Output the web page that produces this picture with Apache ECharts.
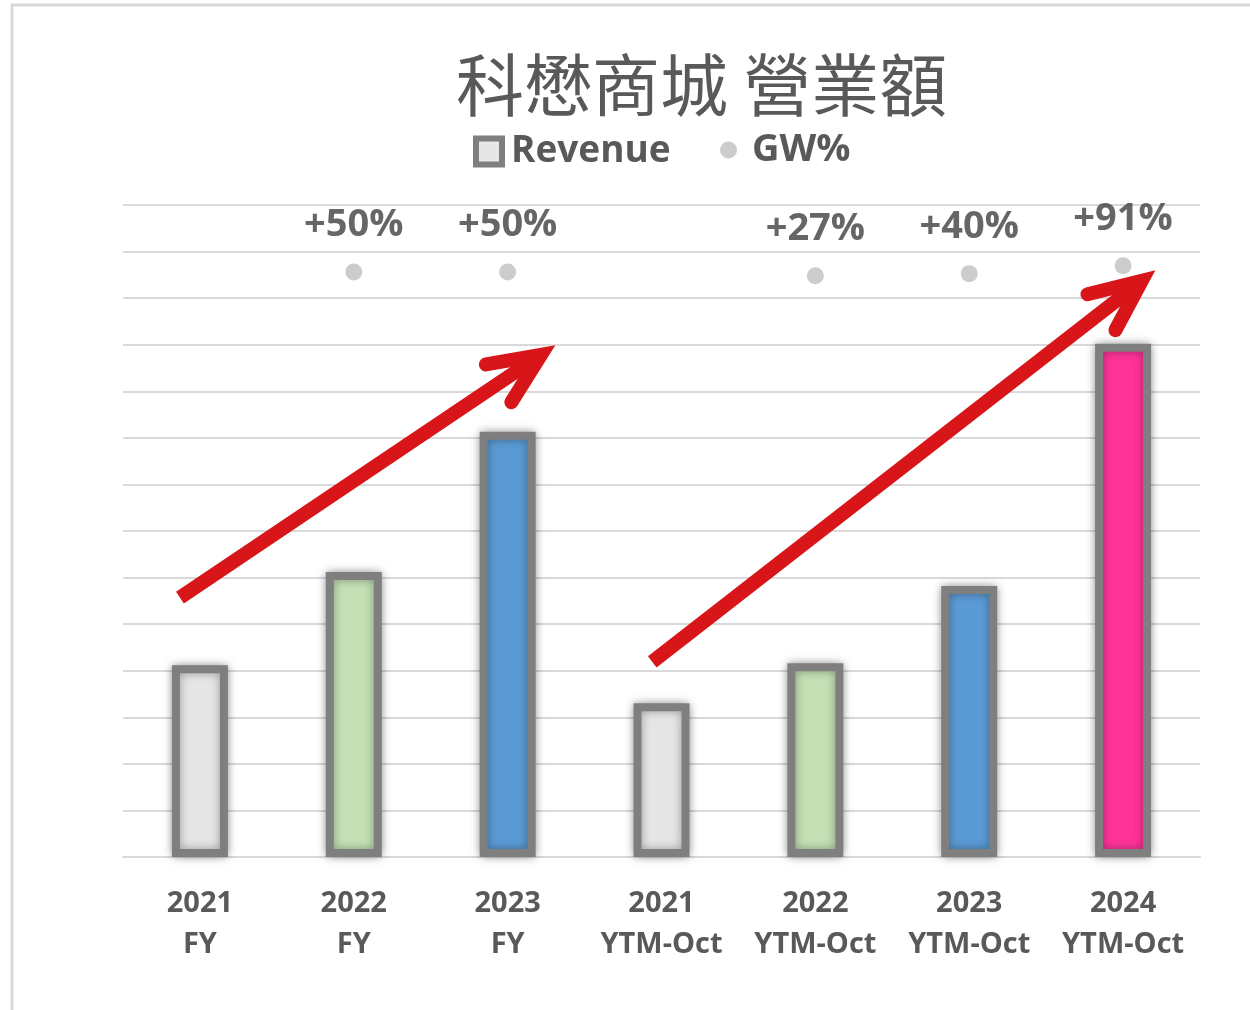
<!DOCTYPE html>
<html>
<head>
<meta charset="utf-8">
<script src="https://cdn.jsdelivr.net/npm/echarts@6/dist/echarts.min.js"></script>
</head>
<body style="margin: 0; background: #fff">
<div id="container" style="width: 1250px; height: 1010px;"></div>
<script>
var categories = ['2021\nFY', '2022\nFY', '2023\nFY', '2021\nYTM-Oct', '2022\nYTM-Oct', '2023\nYTM-Oct', '2024\nYTM-Oct'];
var revenue = [4.12, 6.12, 9.13, 3.30, 4.16, 5.82, 11.02];
var growth = [null, 50, 50, null, 27, 40, 91];   // GW%
var barColors = ['#e7e6e6', '#c5e0b4', '#5b9bd5', '#e7e6e6', '#c5e0b4', '#5b9bd5', '#ff3399'];

// red trend arrows, in data space: [category index, revenue value]
var arrows = [
    {from: [-0.13, 5.57], to: [2.31, 10.99]},
    {from: [2.94, 4.19], to: [6.21, 12.60]}
];

var chart = echarts.init(document.getElementById('container'));
var latin = '"Open Sans", "DejaVu Sans", sans-serif';

var option = {
    animation: false,
    title: {
        text: '科懋商城 營業額',
        left: 451,
        top: 46,
        textStyle: {
            fontFamily: '"Noto Sans CJK TC", sans-serif',
            fontSize: 68,
            fontWeight: 'normal',
            color: '#595959'
        }
    },
    legend: [
        {
            left: 468,
            top: 128,
            itemWidth: 26,
            itemHeight: 26,
            data: [{
                name: 'Revenue',
                icon: 'rect',
                itemStyle: {color: '#e7e6e6', borderColor: '#7f7f7f', borderWidth: 6}
            }],
            textStyle: {fontFamily: latin, fontSize: 37, fontWeight: 'bold', color: '#595959', padding: [0, 0, 0, 4]}
        },
        {
            left: 715,
            top: 126,
            itemWidth: 17,
            itemHeight: 17,
            data: [{name: 'GW%', icon: 'circle', itemStyle: {color: '#bfbfbf'}}],
            textStyle: {fontFamily: latin, fontSize: 38, fontWeight: 'bold', color: '#595959', padding: [0, 0, 0, 10]}
        }
    ],
    grid: {left: 123, right: 50, top: 205, bottom: 153},
    xAxis: {
        type: 'category',
        data: categories,
        axisLine: {lineStyle: {color: '#d9d9d9', width: 2}},
        axisTick: {show: false},
        axisLabel: {
            interval: 0,
            hideOverlap: false,
            margin: 26,
            lineHeight: 41,
            fontFamily: latin,
            fontSize: 29,
            fontWeight: 'bold',
            color: '#595959'
        }
    },
    yAxis: [
        {
            type: 'value',
            min: 0,
            max: 14,
            interval: 1,
            axisLabel: {show: false},
            axisLine: {show: false},
            axisTick: {show: false},
            splitLine: {lineStyle: {color: '#d9d9d9', width: 2}}
        },
        {
            // hidden scale for GW% dots, they sit almost flat near the top
            type: 'value',
            min: -3700,
            max: 480,
            show: false,
            splitLine: {show: false}
        }
    ],
    series: [
        {
            name: 'Revenue',
            type: 'bar',
            barWidth: 56,
            data: revenue.map(function (v, i) {
                return {value: v, itemStyle: {color: barColors[i]}};
            }),
            itemStyle: {
                borderColor: '#7f7f7f',
                borderWidth: 8,
                shadowBlur: 10,
                shadowColor: 'rgba(0,0,0,0.35)'
            }
        },
        {
            name: 'GW%',
            type: 'scatter',
            yAxisIndex: 1,
            symbolSize: 17,
            data: growth,
            itemStyle: {color: '#bfbfbf'},
            label: {
                show: true,
                position: 'top',
                distance: 19,
                formatter: function (p) { return '+' + p.value + '%'; },
                fontFamily: latin,
                fontSize: 38,
                fontWeight: 'bold',
                color: '#404040'
            }
        }
    ]
};
chart.setOption(option);

// build arrows from data coords
var p0 = chart.convertToPixel({xAxisIndex: 0}, 0);
var p1 = chart.convertToPixel({xAxisIndex: 0}, 1);
function toPx(pt) {
    return [p0 + pt[0] * (p1 - p0), chart.convertToPixel({yAxisIndex: 0}, pt[1])];
}

var graphics = [{
    type: 'rect',
    shape: {x: 12, y: 5, width: 1400, height: 1200},
    style: {fill: null, stroke: '#d9d9d9', lineWidth: 3},
    silent: true,
    z: 0
}];

var red = '#d81518';
var lw = 14;
arrows.forEach(function (a) {
    var s = toPx(a.from), t = toPx(a.to);
    var dx = t[0] - s[0], dy = t[1] - s[1];
    var len = Math.sqrt(dx * dx + dy * dy);
    var ux = dx / len, uy = dy / len;
    var half = 24 * Math.PI / 180;
    var back = (lw / 2) / Math.sin(half);
    var tip = [t[0] - ux * back, t[1] - uy * back];
    var arm = 56;
    var ang = Math.atan2(-uy, -ux);
    var a1 = [tip[0] + arm * Math.cos(ang + half), tip[1] + arm * Math.sin(ang + half)];
    var a2 = [tip[0] + arm * Math.cos(ang - half), tip[1] + arm * Math.sin(ang - half)];
    graphics.push({
        type: 'polyline',
        shape: {points: [s, [tip[0] - ux * 4, tip[1] - uy * 4]]},
        style: {stroke: red, lineWidth: lw, fill: null, lineCap: 'butt'},
        z: 100
    });
    graphics.push({
        type: 'polyline',
        shape: {points: [a1, tip, a2]},
        style: {stroke: red, lineWidth: lw, fill: null, lineCap: 'round', lineJoin: 'miter'},
        z: 100
    });
});

chart.setOption({graphic: graphics});
</script>
</body>
</html>
